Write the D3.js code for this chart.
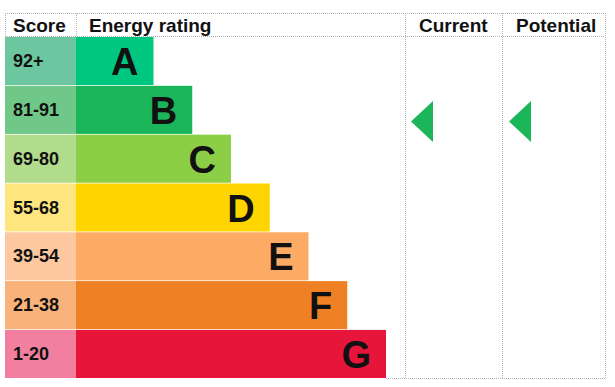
<!DOCTYPE html>
<html>
<head>
<meta charset="utf-8">
<script src="https://cdn.jsdelivr.net/npm/d3@7"></script>
<style>
  body { margin: 0; background: #fff; }
  text { font-family: Arial, "Liberation Sans", sans-serif; font-weight: bold; fill: #111; }
</style>
</head>
<body>
<svg id="chart"></svg>
<script>
// Data
const ratings = ['A', 'B', 'C', 'D', 'E', 'F', 'G'];
const scoreLabels = ['92+', '81-91', '69-80', '55-68', '39-54', '21-38', '1-20'];
const barLengths = [2, 3, 4, 5, 6, 7, 8];
const barColors = ['#00c77f', '#1bb55a', '#8cce46', '#ffd500', '#fdaa65', '#ef8124', '#e8153b'];
const scoreColors = ['#6cc6a0', '#6fc887', '#b0dc8c', '#ffe57d', '#fdc7a0', '#f9b27a', '#f27fa0'];
const columns = ['Score', 'Energy rating', 'Current', 'Potential'];
const currentRating = 'B';
const potentialRating = 'B';

const width = 615, height = 387;
const colX = [5, 76, 405, 502, 605];   // column edges
const tableTop = 13, headerBottom = 36, tableBottom = 378;

const svg = d3.select('#chart')
    .attr('width', width)
    .attr('height', height);

const y = d3.scaleBand()
    .domain(ratings)
    .range([headerBottom + 1, tableBottom])
    .paddingInner(0.015);

const x = d3.scaleLinear()
    .domain([0, 8])
    .range([colX[1], colX[1] + 310]);

const rows = ratings.map((r, i) => ({
  rating: r, score: scoreLabels[i], len: barLengths[i],
  color: barColors[i], scoreColor: scoreColors[i]
}));

// Score cells
svg.selectAll('.score-cell')
    .data(rows)
  .join('rect')
    .attr('class', 'score-cell')
    .attr('x', colX[0])
    .attr('y', d => y(d.rating))
    .attr('width', colX[1] - colX[0])
    .attr('height', y.bandwidth())
    .attr('fill', d => d.scoreColor);

// Rating bars
svg.selectAll('.bar')
    .data(rows)
  .join('rect')
    .attr('class', 'bar')
    .attr('x', x(0))
    .attr('y', d => y(d.rating))
    .attr('width', d => x(d.len) - x(0))
    .attr('height', y.bandwidth())
    .attr('fill', d => d.color);

svg.selectAll('.score-label')
    .data(rows)
  .join('text')
    .attr('class', 'score-label')
    .attr('x', 13)
    .attr('y', d => y(d.rating) + y.bandwidth() / 2 + 6)
    .style('font-size', '18px')
    .text(d => d.score);

svg.selectAll('.letter')
    .data(rows)
  .join('text')
    .attr('class', 'letter')
    .attr('x', d => x(d.len) - 15)
    .attr('y', d => y(d.rating) + y.bandwidth() / 2 + 14)
    .attr('text-anchor', 'end')
    .style('font-size', '38px')
    .text(d => d.rating);

// Grid lines (dotted)
const grid = svg.append('g')
    .attr('stroke', '#b5b5b5')
    .attr('stroke-width', 1)
    .attr('stroke-dasharray', '1,1')
    .attr('fill', 'none');

grid.append('line').attr('x1', colX[0]).attr('x2', colX[4]).attr('y1', tableTop + 0.5).attr('y2', tableTop + 0.5);
grid.append('line').attr('x1', colX[0]).attr('x2', colX[4]).attr('y1', headerBottom + 0.5).attr('y2', headerBottom + 0.5);
grid.append('line').attr('x1', x(8)).attr('x2', colX[4]).attr('y1', tableBottom + 0.5).attr('y2', tableBottom + 0.5);
grid.append('line').attr('x1', colX[0] + 0.5).attr('x2', colX[0] + 0.5).attr('y1', tableTop).attr('y2', headerBottom);
grid.append('line').attr('x1', colX[1] + 0.5).attr('x2', colX[1] + 0.5).attr('y1', tableTop).attr('y2', headerBottom);
[2, 3, 4].forEach(i => {
  grid.append('line')
      .attr('x1', colX[i] + 0.5).attr('x2', colX[i] + 0.5)
      .attr('y1', tableTop).attr('y2', tableBottom);
});

// Headers
const headerX = [13, 89, 419, 516];
svg.selectAll('.header')
    .data(columns)
  .join('text')
    .attr('class', 'header')
    .attr('x', (d, i) => headerX[i])
    .attr('y', 32)
    .style('font-size', '19px')
    .text(d => d);

// Current / potential arrows
function arrow(rating, x0) {
  const cy = y(rating) + y.bandwidth() * 0.74;
  svg.append('path')
      .attr('d', `M${x0},${cy} L${x0 + 22},${cy - 20.5} L${x0 + 22},${cy + 20.5} Z`)
      .attr('fill', barColors[ratings.indexOf(rating)]);
}
arrow(currentRating, colX[2] + 6);
arrow(potentialRating, colX[3] + 7);
</script>
</body>
</html>
